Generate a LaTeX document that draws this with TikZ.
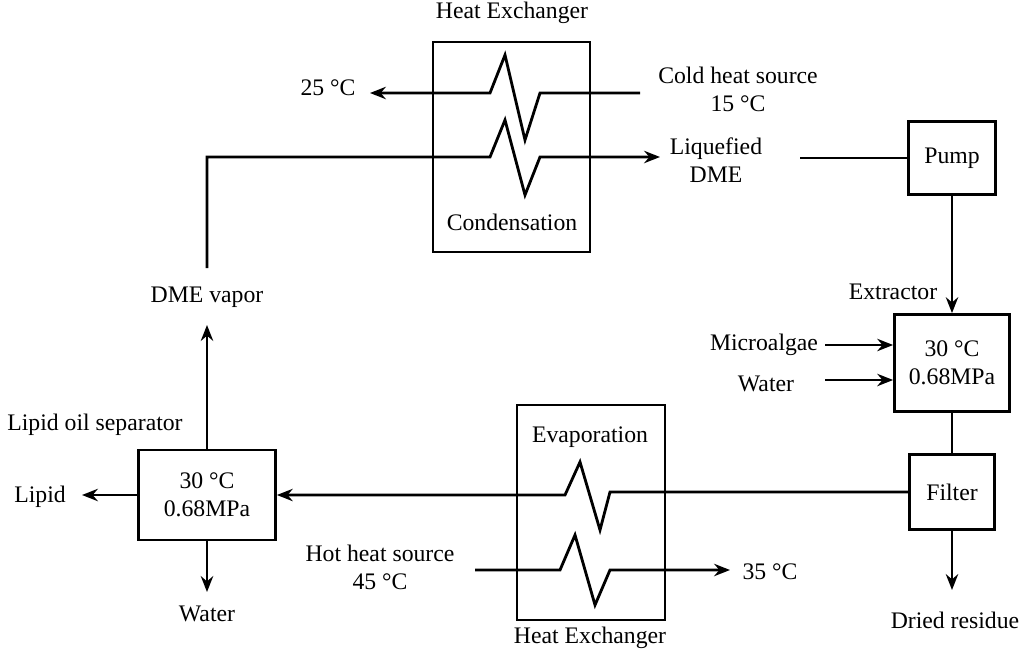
\documentclass[tikz,border=0pt]{standalone}
\usepackage{fontspec}
\setmainfont{Liberation Serif}
\usetikzlibrary{arrows.meta}
\begin{document}
\begin{tikzpicture}[x=0.02cm,y=-0.02cm,font=\fontsize{13.5}{16}\selectfont]
	\tikzset{unit/.style={draw, line width=1.6pt}}
	\tikzset{flow/.style={line width=1.6pt}}
	\tikzset{flowarr/.style={line width=1.6pt, -{Stealth[length=9pt,width=7pt]}}}
	\tikzset{lbl/.style={inner sep=1pt, align=center}}
	\useasboundingbox (0,0) rectangle (1024,656);

	% units
	\draw[unit] (433,42) rectangle (590,252);
	\draw[unit] (517,405) rectangle (665,620);
	\node[unit, minimum width=1.74cm, minimum height=1.46cm] (pump) at (952,158) {Pump};
	\node[unit, minimum width=2.3cm, minimum height=1.94cm, align=center] (ext) at (952,363) {30 \textdegree C\\0.68MPa};
	\node[unit, minimum width=1.7cm, minimum height=1.5cm] (filter) at (952,492) {Filter};
	\node[unit, minimum width=2.74cm, minimum height=1.8cm, align=center] (sep) at (207,495) {30 \textdegree C\\0.68MPa};

	% labels
	\node[lbl] (hx1) at (512,13) {Heat Exchanger};
	\node[lbl] (hx2) at (590,638) {Heat Exchanger};
	\node[lbl] (cond) at (512,222) {Condensation};
	\node[lbl] (evap) at (590,437) {Evaporation};
	\node[lbl] (t25) at (328,88) {25 \textdegree C};
	\node[lbl] (cold) at (738,89) {Cold heat source\\15 \textdegree C};
	\node[lbl] (liq) at (716,160) {Liquefied\\DME};
	\node[lbl] (extl) at (893,292) {Extractor};
	\node[lbl] (alg) at (764,345) {Microalgae};
	\node[lbl] (wat1) at (766,384) {Water};
	\node[lbl] (res) at (955,620) {Dried residue};
	\node[lbl] (t35) at (770,572) {35 \textdegree C};
	\node[lbl] (hot) at (380,567) {Hot heat source\\45 \textdegree C};
	\node[lbl] (lsep) at (95,425) {Lipid oil separator};
	\node[lbl] (vap) at (207,297) {DME vapor};
	\node[lbl] (lip) at (40,497) {Lipid};
	\node[lbl] (wat2) at (207,614) {Water};

	% condenser
	\draw[flowarr] (640,93) -- (540,93) -- (525,140) -- (505,55) -- (490,93) -- (370,93);
	\draw[flowarr] (207,268) -- (207,157) -- (490,157) -- (505,120) -- (525,195) -- (540,157) -- (660,157);
	\draw[flow] (800,158) -- (pump.west);
	\draw[flowarr] (pump.south) -- (ext.north);
	\draw[flowarr] (825,345) -- (ext.west |- 0,345);
	\draw[flowarr] (825,380) -- (ext.west |- 0,380);
	\draw[flow] (ext.south) -- (filter.north);
	\draw[flowarr] (filter.south) -- (952,590);

	% evaporator
	\draw[flowarr] (filter.west) -- (610,492) -- (600,530) -- (580,462) -- (565,495) -- (sep.east);
	\draw[flowarr] (475,570) -- (560,570) -- (575,535) -- (595,605) -- (610,570) -- (730,570);
	\draw[flowarr] (sep.north) -- (207,325);
	\draw[flowarr] (sep.west) -- (82,495);
	\draw[flowarr] (sep.south) -- (207,592);
\end{tikzpicture}
\end{document}
